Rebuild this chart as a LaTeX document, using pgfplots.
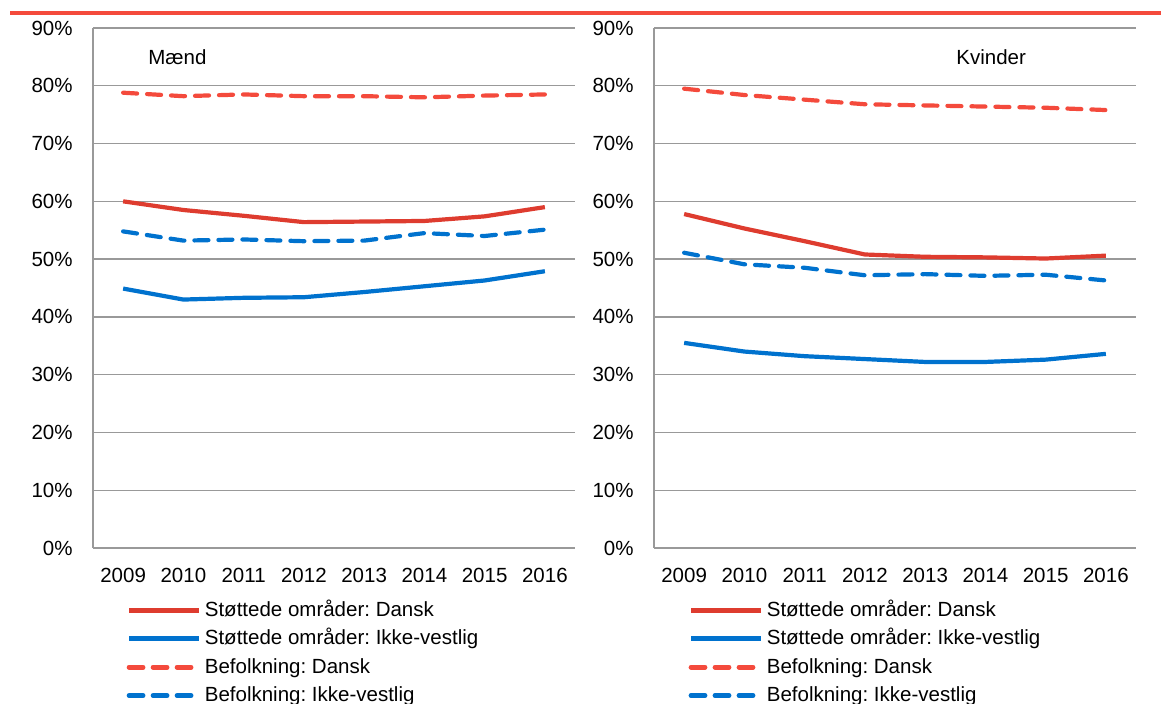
\documentclass[border=0pt]{standalone}
\usepackage{fontspec}
\setmainfont{Liberation Sans}
\usepackage{pgfplots}
\pgfplotsset{compat=1.18}
\definecolor{rsol}{HTML}{DE3C2F}
\definecolor{rdash}{HTML}{F44A3C}
\definecolor{bline}{HTML}{0072CE}
\definecolor{gridg}{HTML}{999999}
\pgfplotsset{
  panel/.style={
    scale only axis, width=241pt, height=260pt,
    xmin=-0.5, xmax=7.5, ymin=0, ymax=90,
    xtick={0,...,7}, xticklabels={2009,2010,2011,2012,2013,2014,2015,2016},
    ytick={0,10,...,90},
    yticklabel={\pgfmathprintnumber{\tick}\%},
    /pgf/number format/assume math mode=true,
    ymajorgrids, grid style={gridg, line width=0.65pt},
    axis x line=bottom, axis y line=left,
    axis line style={-, gridg, line width=0.65pt},
    major tick length=0pt,
    tick label style={font=\fontsize{10.25}{12}\selectfont, inner sep=0pt},
    yticklabel style={anchor=east, xshift=-10pt},
    xticklabel style={anchor=north, yshift=-10pt},
    clip=false,
    legend cell align=left,
    legend style={draw=none, fill=none, anchor=north west, inner sep=0pt,
      font=\fontsize{10.25}{12}\selectfont, row sep=4.2pt, column sep=0pt,
      nodes={inner sep=0pt, text height=8pt, text depth=2pt}},
    legend image code/.code={\draw[##1, line width=2.4pt] (0pt,0pt) -- (35pt,0pt);},
  },
  sd/.style={rsol, line width=2.1pt, line join=round},
  si/.style={bline, line width=2.1pt, line join=round},
  bd/.style={rdash, line width=2.1pt, line join=round, line cap=round, dash pattern=on 7pt off 5pt},
  bi/.style={bline, line width=2.1pt, line join=round, line cap=round, dash pattern=on 7pt off 5pt},
}
\begin{document}
\frenchspacing
\begin{tikzpicture}
\useasboundingbox (0,0) rectangle (580.5pt,352pt);
\draw[rdash, line width=2pt] (5pt,345.5pt) -- (580.5pt,345.5pt);
\begin{axis}[panel, at={(46.5pt,78pt)}, anchor=south west,
  legend style={at={(0.069,-0.100)}}]
\addplot[sd] coordinates {(0,60.0) (1,58.5) (2,57.5) (3,56.4) (4,56.5) (5,56.6) (6,57.4) (7,59.0)};
\addlegendentry{\,Støttede områder: Dansk}
\addplot[si] coordinates {(0,44.9) (1,43.0) (2,43.3) (3,43.4) (4,44.3) (5,45.3) (6,46.3) (7,47.9)};
\addlegendentry{\,Støttede områder: Ikke-vestlig}
\addplot[bd] coordinates {(0,78.8) (1,78.2) (2,78.5) (3,78.2) (4,78.2) (5,78.0) (6,78.3) (7,78.5)};
\addlegendentry{\,Befolkning: Dansk}
\addplot[bi] coordinates {(0,54.8) (1,53.2) (2,53.4) (3,53.1) (4,53.2) (5,54.5) (6,54.0) (7,55.1)};
\addlegendentry{\,Befolkning: Ikke-vestlig}
\end{axis}
\begin{axis}[panel, at={(327pt,78pt)}, anchor=south west,
  legend style={at={(0.071,-0.100)}}]
\addplot[sd] coordinates {(0,57.8) (1,55.3) (2,53.1) (3,50.8) (4,50.4) (5,50.3) (6,50.1) (7,50.6)};
\addlegendentry{\,Støttede områder: Dansk}
\addplot[si] coordinates {(0,35.5) (1,34.0) (2,33.2) (3,32.7) (4,32.2) (5,32.2) (6,32.6) (7,33.6)};
\addlegendentry{\,Støttede områder: Ikke-vestlig}
\addplot[bd] coordinates {(0,79.5) (1,78.4) (2,77.6) (3,76.8) (4,76.6) (5,76.4) (6,76.2) (7,75.8)};
\addlegendentry{\,Befolkning: Dansk}
\addplot[bi] coordinates {(0,51.1) (1,49.1) (2,48.5) (3,47.2) (4,47.4) (5,47.1) (6,47.3) (7,46.3)};
\addlegendentry{\,Befolkning: Ikke-vestlig}
\end{axis}
\node[anchor=west, inner sep=0pt, font=\fontsize{10.25}{12}\selectfont] at (74pt,323.5pt) {Mænd};
\node[anchor=west, inner sep=0pt, font=\fontsize{10.25}{12}\selectfont] at (478pt,323.5pt) {Kvinder};
\end{tikzpicture}
\end{document}
